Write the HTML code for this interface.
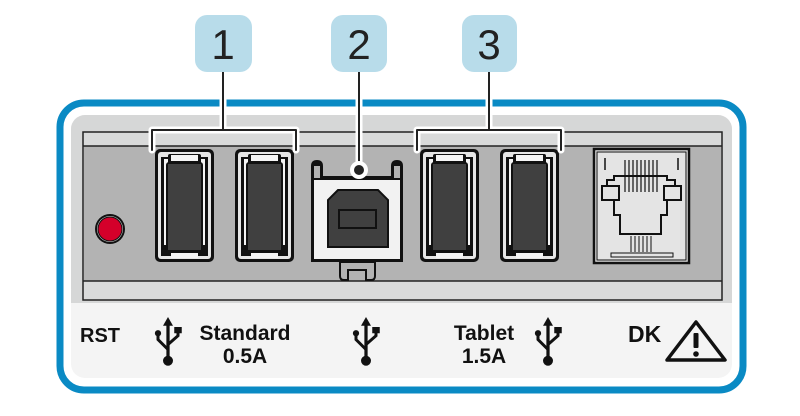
<!DOCTYPE html>
<html><head><meta charset="utf-8"><style>
html,body{margin:0;padding:0;background:#fff;width:800px;height:416px;overflow:hidden}
svg{display:block}
</style></head><body>
<svg width="800" height="416" viewBox="0 0 800 416" xmlns="http://www.w3.org/2000/svg">
<defs>
<g id="usbA">
  <rect x="0" y="0" width="59" height="113" rx="5" fill="#111"/>
  <rect x="3" y="3" width="53" height="107" rx="3" fill="#e6e6e6"/>
  <rect x="6" y="8" width="47" height="99" fill="#111"/>
  <rect x="9" y="10" width="4" height="86" fill="#f4f4f4"/>
  <rect x="46" y="10" width="4" height="86" fill="#f4f4f4"/>
  <rect x="13" y="5" width="33" height="10" rx="2" fill="#111"/>
  <rect x="16" y="6" width="27" height="6" fill="#f4f4f4"/>
  <rect x="11" y="13" width="37" height="91" rx="3" fill="#111"/>
  <rect x="13" y="15" width="33" height="86" fill="#404040"/>
  <rect x="16" y="104" width="27" height="5" fill="#f4f4f4"/>
</g>
<g id="usbIcon" fill="#111" stroke="#111">
  <line x1="0" y1="-16" x2="0" y2="14" stroke-width="2.6"/>
  <polygon points="0,-20 -4,-13 4,-13" stroke="none"/>
  <path d="M0 6 L-8 -2 L-8 -6" fill="none" stroke-width="2.4"/>
  <circle cx="-8" cy="-7" r="2.5" stroke="none"/>
  <path d="M0 2 L8 -5 L8 -8" fill="none" stroke-width="2.4"/>
  <rect x="5" y="-12" width="6" height="5" stroke="none"/>
  <circle cx="0" cy="15" r="4" stroke="none"/>
</g>
</defs>
<rect x="60" y="103" width="683" height="287" rx="24" fill="#fff" stroke="#0a8ac4" stroke-width="7"/>
<rect x="71" y="115" width="661" height="263" rx="14" fill="#f4f4f4"/>
<rect x="71" y="115" width="661" height="188" rx="14" fill="#d6d7d7"/>
<rect x="71" y="290" width="661" height="13" fill="#d6d7d7"/>
<rect x="83" y="132" width="639" height="168" fill="#d9dada" stroke="#222" stroke-width="1.5"/>
<rect x="84" y="146" width="637" height="135" fill="#b3b3b3"/>
<line x1="83" y1="146" x2="722" y2="146" stroke="#222" stroke-width="1.5"/>
<line x1="83" y1="281" x2="722" y2="281" stroke="#222" stroke-width="1.5"/>
<circle cx="110" cy="229" r="15" fill="#111"/>
<circle cx="110" cy="229" r="13" fill="#d9d9d9"/>
<circle cx="110" cy="229" r="12" fill="#d4002a" stroke="#111" stroke-width="1"/>
<use href="#usbA" x="155" y="149"/>
<use href="#usbA" x="235" y="149"/>
<use href="#usbA" x="420" y="149"/>
<use href="#usbA" x="500" y="149"/>
<g>
  <path d="M340 262 L340 276 Q340 280 344 280 L348 280 L348 270 L366 270 L366 280 L371 280 Q375 280 375 276 L375 262 Z" fill="#b3b3b3" stroke="#111" stroke-width="2"/>
  <path d="M311 262 L311 166 Q311 160 317 160 Q323 160 323 166 L323 176 L391 176 L391 166 Q391 160 397 160 Q403 160 403 166 L403 262 Z" fill="#111"/>
  <rect x="323" y="170" width="68" height="6" fill="#b3b3b3"/>
  <rect x="314" y="166" width="6" height="12" fill="#b3b3b3"/>
  <rect x="394" y="166" width="6" height="12" fill="#b3b3b3"/>
  <rect x="314" y="180" width="86" height="79" fill="#f2f2f2"/>
  <path d="M328 247 L328 200 L338 190 L378 190 L388 200 L388 247 Z" fill="#404040" stroke="#111" stroke-width="2"/>
  <rect x="339" y="210" width="37" height="18" fill="#404040" stroke="#111" stroke-width="2"/>
</g>
<g stroke="#111" fill="none">
  <rect x="594" y="149" width="95" height="114" fill="#e4e4e4" stroke-width="2.5"/>
  <rect x="597" y="152" width="89" height="108" stroke-width="1"/>
  <path d="M605 170 L605 158 M678 170 L678 158" stroke-width="1.5"/>
  <path d="M607 180 L607 198 L614 198 L614 215 L620 215 L620 234 L661 234 L661 215 L667 215 L667 198 L675 198 L675 180 L667 180 L667 176 L614 176 L614 180 Z" stroke-width="2" fill="#e4e4e4"/>
  <rect x="602" y="186" width="17" height="14" fill="#e4e4e4" stroke-width="2"/>
  <rect x="664" y="186" width="17" height="14" fill="#e4e4e4" stroke-width="2"/>
  <path d="M625 160 V192 M629 160 V192 M633 160 V192 M637 160 V192 M641 160 V192 M645 160 V192 M649 160 V192 M653 160 V192 M657 160 V192" stroke-width="1.2"/>
  <path d="M631 236 V252 M635 236 V252 M639 236 V252 M643 236 V252 M647 236 V252 M651 236 V252" stroke-width="1"/>
  <rect x="611" y="253" width="62" height="4" stroke-width="1"/>
</g>
<g fill="none" stroke-linecap="round" stroke-linejoin="round">
  <path d="M152 150 V130 H296 V150 M223 130 V70" stroke="#fff" stroke-width="7"/>
  <path d="M152 150 V130 H296 V150 M223 130 V70" stroke="#222" stroke-width="2"/>
  <path d="M417 150 V130 H561 V150 M489 130 V70" stroke="#fff" stroke-width="7"/>
  <path d="M417 150 V130 H561 V150 M489 130 V70" stroke="#222" stroke-width="2"/>
  <line x1="359" y1="70" x2="359" y2="168" stroke="#fff" stroke-width="7"/>
  <line x1="359" y1="70" x2="359" y2="168" stroke="#222" stroke-width="2"/>
</g>
<circle cx="359" cy="170" r="9" fill="#fff"/>
<circle cx="359" cy="170" r="5" fill="#222"/>
<rect x="195" y="15" width="57" height="57" rx="12" fill="#b8dcea"/>
<rect x="331" y="15" width="56" height="57" rx="12" fill="#b8dcea"/>
<rect x="462" y="15" width="55" height="57" rx="12" fill="#b8dcea"/>
<g fill="#222" font-size="42" text-anchor="middle" style="font-family:'Liberation Sans',sans-serif">
<text x="223" y="59">1</text><text x="359" y="59">2</text><text x="489" y="59">3</text>
</g>
<g fill="#111" font-weight="bold" style="font-family:'Liberation Sans',sans-serif">
<text x="80" y="342" font-size="20">RST</text>
<text x="245" y="340" font-size="21" text-anchor="middle">Standard</text>
<text x="245" y="363" font-size="21" text-anchor="middle">0.5A</text>
<text x="484" y="340" font-size="21" text-anchor="middle">Tablet</text>
<text x="484" y="363" font-size="21" text-anchor="middle">1.5A</text>
<text x="628" y="342" font-size="23">DK</text>
</g>
<use href="#usbIcon" transform="translate(168,342) scale(1.25)"/>
<use href="#usbIcon" transform="translate(366,342) scale(1.25)"/>
<use href="#usbIcon" transform="translate(548,342) scale(1.25)"/>
<path d="M696 322 L725 360 L667 360 Z" fill="none" stroke="#111" stroke-width="3.5" stroke-linejoin="round"/>
<rect x="693.5" y="333" width="5" height="15" rx="1" fill="#111"/>
<circle cx="696" cy="354" r="2.8" fill="#111"/>
</svg>
</body></html>
